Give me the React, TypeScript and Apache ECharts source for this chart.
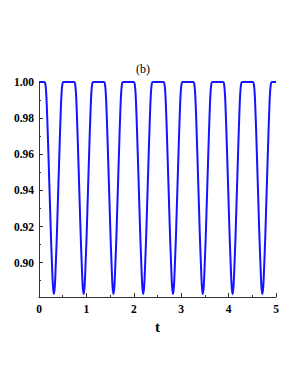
import React, { useEffect, useRef } from 'react';
import * as echarts from 'echarts';

// Time samples (8 dips, centres near 0.314 + k*0.628)
const tValues = [
  0,
  0.114, 0.134, 0.154, 0.174, 0.194, 0.214, 0.234, 0.254, 0.274, 0.294, 0.314, 0.334, 0.354, 0.374, 0.394, 0.414, 0.434, 0.454, 0.474, 0.494, 0.514,
  0.742, 0.762, 0.782, 0.802, 0.822, 0.842, 0.862, 0.882, 0.902, 0.922, 0.942, 0.962, 0.982, 1.002, 1.022, 1.042, 1.062, 1.082, 1.102, 1.122, 1.142,
  1.371, 1.391, 1.411, 1.431, 1.451, 1.471, 1.491, 1.511, 1.531, 1.551, 1.571, 1.591, 1.611, 1.631, 1.651, 1.671, 1.691, 1.711, 1.731, 1.751, 1.771,
  1.999, 2.019, 2.039, 2.059, 2.079, 2.099, 2.119, 2.139, 2.159, 2.179, 2.199, 2.219, 2.239, 2.259, 2.279, 2.299, 2.319, 2.339, 2.359, 2.379, 2.399,
  2.627, 2.647, 2.667, 2.687, 2.707, 2.727, 2.747, 2.767, 2.787, 2.807, 2.827, 2.847, 2.867, 2.887, 2.907, 2.927, 2.947, 2.967, 2.987, 3.007, 3.027,
  3.256, 3.276, 3.296, 3.316, 3.336, 3.356, 3.376, 3.396, 3.416, 3.436, 3.456, 3.476, 3.496, 3.516, 3.536, 3.556, 3.576, 3.596, 3.616, 3.636, 3.656,
  3.884, 3.904, 3.924, 3.944, 3.964, 3.984, 4.004, 4.024, 4.044, 4.064, 4.084, 4.104, 4.124, 4.144, 4.164, 4.184, 4.204, 4.224, 4.244, 4.264, 4.284,
  4.512, 4.532, 4.552, 4.572, 4.592, 4.612, 4.632, 4.652, 4.672, 4.692, 4.712, 4.732, 4.752, 4.772, 4.792, 4.812, 4.832, 4.852, 4.872, 4.892, 4.912,
  5,
];

const yValues = [
  1.0,
  1.0, 0.999, 0.993, 0.98, 0.964, 0.947, 0.93, 0.913, 0.899, 0.887, 0.8826, 0.887, 0.899, 0.913, 0.93, 0.947, 0.964, 0.98, 0.993, 0.999, 1.0,
  1.0, 0.999, 0.993, 0.98, 0.964, 0.947, 0.93, 0.913, 0.899, 0.887, 0.8826, 0.887, 0.899, 0.913, 0.93, 0.947, 0.964, 0.98, 0.993, 0.999, 1.0,
  1.0, 0.999, 0.993, 0.98, 0.964, 0.947, 0.93, 0.913, 0.899, 0.887, 0.8826, 0.887, 0.899, 0.913, 0.93, 0.947, 0.964, 0.98, 0.993, 0.999, 1.0,
  1.0, 0.999, 0.993, 0.98, 0.964, 0.947, 0.93, 0.913, 0.899, 0.887, 0.8826, 0.887, 0.899, 0.913, 0.93, 0.947, 0.964, 0.98, 0.993, 0.999, 1.0,
  1.0, 0.999, 0.993, 0.98, 0.964, 0.947, 0.93, 0.913, 0.899, 0.887, 0.8826, 0.887, 0.899, 0.913, 0.93, 0.947, 0.964, 0.98, 0.993, 0.999, 1.0,
  1.0, 0.999, 0.993, 0.98, 0.964, 0.947, 0.93, 0.913, 0.899, 0.887, 0.8826, 0.887, 0.899, 0.913, 0.93, 0.947, 0.964, 0.98, 0.993, 0.999, 1.0,
  1.0, 0.999, 0.993, 0.98, 0.964, 0.947, 0.93, 0.913, 0.899, 0.887, 0.8826, 0.887, 0.899, 0.913, 0.93, 0.947, 0.964, 0.98, 0.993, 0.999, 1.0,
  1.0, 0.999, 0.993, 0.98, 0.964, 0.947, 0.93, 0.913, 0.899, 0.887, 0.8826, 0.887, 0.899, 0.913, 0.93, 0.947, 0.964, 0.98, 0.993, 0.999, 1.0,
  1.0,
];

const titleText = '(b)';
const xAxisName = 't';
const xRange = [0, 5];
const yRange = [0.881, 1.0];

const FONT = '"Liberation Serif", "Times New Roman", serif';

export default function App() {
  const ref = useRef<HTMLDivElement>(null);

  useEffect(() => {
    if (!ref.current) return;
    const chart = echarts.init(ref.current, null, { renderer: 'svg' });
    const data = tValues.map((t, i) => [t, yValues[i]]);
    chart.setOption({
      animation: false,
      backgroundColor: '#ffffff',
      title: {
        text: titleText,
        left: 136,
        top: 63,
        padding: 0,
        textStyle: { fontFamily: FONT, fontSize: 12, fontWeight: 'normal', color: '#000' },
      },
      grid: { left: 39, right: 24, top: 82, bottom: 91, containLabel: false },
      xAxis: {
        type: 'value',
        min: xRange[0],
        max: xRange[1],
        interval: 1,
        name: xAxisName,
        nameLocation: 'middle',
        nameGap: 20,
        nameTextStyle: { fontFamily: FONT, fontSize: 15, fontWeight: 'bold', color: '#000' },
        axisLine: { onZero: false, lineStyle: { color: '#333', width: 1 } },
        axisTick: { inside: true, length: 4, lineStyle: { color: '#333' } },
        minorTick: { show: true, splitNumber: 2, length: 2, lineStyle: { color: '#333' } },
        splitLine: { show: false },
        axisLabel: { margin: 6, fontFamily: FONT, fontSize: 11.5, fontWeight: 'bold', color: '#000' },
      },
      yAxis: {
        type: 'value',
        min: yRange[0],
        max: yRange[1],
        splitNumber: 6,
        axisLine: { show: true, lineStyle: { color: '#333', width: 1 } },
        axisTick: { show: true, inside: true, length: 4, lineStyle: { color: '#333' } },
        minorTick: { show: true, splitNumber: 2, length: 2, lineStyle: { color: '#333' } },
        splitLine: { show: false },
        axisLabel: {
          margin: 5,
          showMinLabel: false,
          fontFamily: FONT,
          fontSize: 11.5,
          fontWeight: 'bold',
          color: '#000',
          formatter: (v: number) => v.toFixed(2),
        },
      },
      series: [
        {
          type: 'line',
          data,
          showSymbol: false,
          smooth: 0.3,
          lineStyle: { color: '#1414ff', width: 2 },
        },
      ],
    });
    return () => chart.dispose();
  }, []);

  return (
    <div
      ref={ref}
      style={{ position: 'fixed', left: 0, top: 0, width: 300, height: 388, background: '#fff' }}
    />
  );
}
